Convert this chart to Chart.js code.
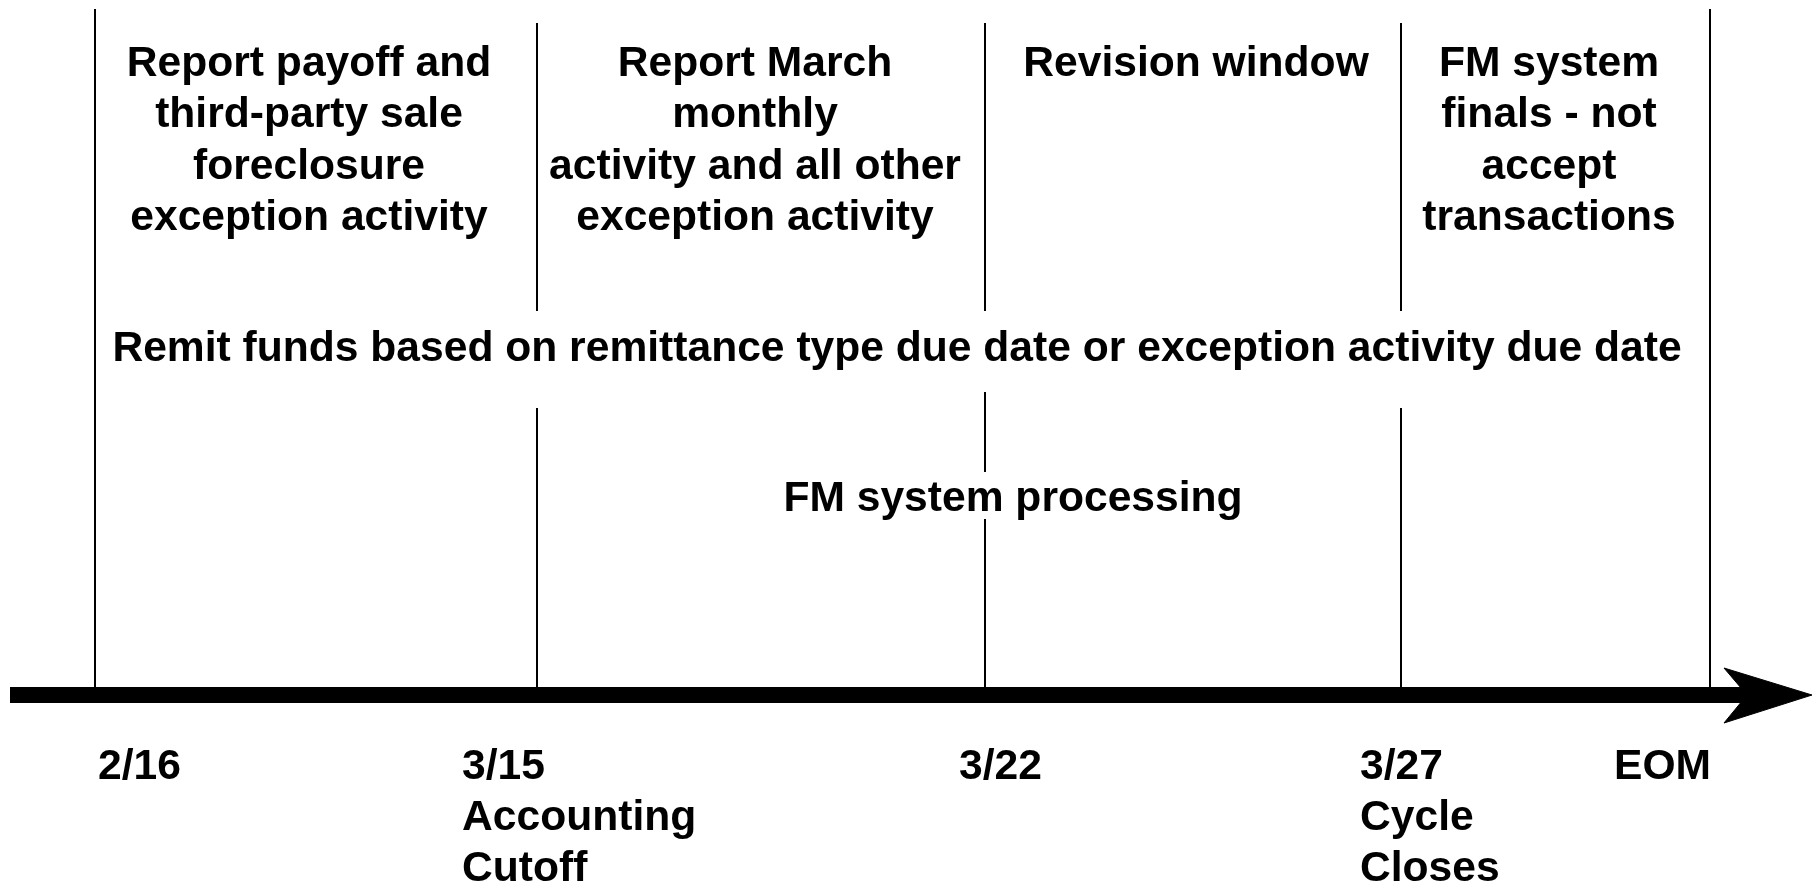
<!DOCTYPE html>
<html>
<head>
<meta charset="utf-8">
<script src="https://cdn.jsdelivr.net/npm/chart.js@4.4.1/dist/chart.umd.min.js"></script>
<style>
  html, body { margin: 0; padding: 0; background: #fff; }
  #wrap { width: 1812px; height: 885px; position: relative; }
</style>
</head>
<body>
<div id="wrap"><canvas id="timeline"></canvas></div>
<script>
// timeline milestones (positions in timeline units, canvas is 1812 x 885 units)
const markerNames = ['2/16', '3/15', '3/22', '3/27', 'EOM'];
const markerX = [95, 537, 985, 1401, 1710];
const markerNotes = [[], ['Accounting', 'Cutoff'], [], ['Cycle', 'Closes'], []];
const markerLabelX = [98, 462, 959, 1360, 1711];
const markerLabelAlign = ['left', 'left', 'left', 'left', 'right'];

// visible pieces of each milestone line [from, to]
const markerSegments = [
  [[9, 695]],
  [[23, 311], [408, 695]],
  [[23, 311], [392, 472], [519, 695]],
  [[23, 311], [408, 695]],
  [[9, 695]]
];

// phase captions between the milestones
const phaseText = [
  ['Report payoff and', 'third-party sale', 'foreclosure', 'exception activity'],
  ['Report March', 'monthly', 'activity and all other', 'exception activity'],
  ['Revision window'],
  ['FM system', 'finals - not', 'accept', 'transactions']
];
const phaseX = [309, 755, 1196, 1549];
const phaseTop = 64;

// captions spanning the whole period
const spanText = ['Remit funds based on remittance type due date or exception activity due date', 'FM system processing'];
const spanX = [897, 1013];
const spanY = [349, 499];

// time axis and arrow head
const axisY = 695;
const axisFrom = 10;
const axisTo = 1747;
const arrowX = [1812, 1724, 1747, 1724, 1812];
const arrowY = [695, 668, 695, 723, 695];

const FONT = 'bold 42.6px "Liberation Sans", Arial, Helvetica, sans-serif';

const datasets = [];
markerSegments.forEach((segs, i) => {
  segs.forEach(s => {
    datasets.push({
      data: [{ x: markerX[i], y: s[0] }, { x: markerX[i], y: s[1] }],
      borderColor: '#000',
      borderWidth: 2,
      pointRadius: 0
    });
  });
});
datasets.push({
  data: [{ x: axisFrom, y: axisY }, { x: axisTo, y: axisY }],
  borderColor: '#000',
  borderWidth: 16,
  borderCapStyle: 'butt',
  pointRadius: 0
});
datasets.push({
  data: arrowX.map((x, i) => ({ x, y: arrowY[i] })),
  borderColor: '#000',
  borderWidth: 1,
  backgroundColor: '#000',
  fill: 'shape',
  tension: 0,
  pointRadius: 0
});

const textPlugin = {
  id: 'timelineText',
  afterDatasetsDraw(chart) {
    const { ctx, scales: { x, y } } = chart;
    ctx.save();
    ctx.fillStyle = '#000';
    ctx.font = FONT;
    ctx.textBaseline = 'middle';

    ctx.textAlign = 'center';
    phaseText.forEach((lines, i) => {
      lines.forEach((t, j) => {
        ctx.fillText(t, x.getPixelForValue(phaseX[i]), y.getPixelForValue(phaseTop + j * 51.5));
      });
    });
    spanText.forEach((t, i) => {
      ctx.fillText(t, x.getPixelForValue(spanX[i]), y.getPixelForValue(spanY[i]));
    });

    markerNames.forEach((name, i) => {
      ctx.textAlign = markerLabelAlign[i];
      const lines = [name].concat(markerNotes[i]);
      lines.forEach((t, j) => {
        ctx.fillText(t, x.getPixelForValue(markerLabelX[i]), y.getPixelForValue(767 + j * 51));
      });
    });
    ctx.restore();
  }
};

new Chart(document.getElementById('timeline'), {
  type: 'line',
  data: { datasets },
  options: {
    responsive: true,
    maintainAspectRatio: false,
    animation: false,
    layout: { padding: 0 },
    datasets: { line: { clip: false } },
    plugins: { legend: { display: false }, tooltip: { enabled: false } },
    scales: {
      x: { type: 'linear', min: 0, max: 1812, display: false },
      y: { type: 'linear', min: 0, max: 885, reverse: true, display: false }
    }
  },
  plugins: [textPlugin]
});
</script>
</body>
</html>
